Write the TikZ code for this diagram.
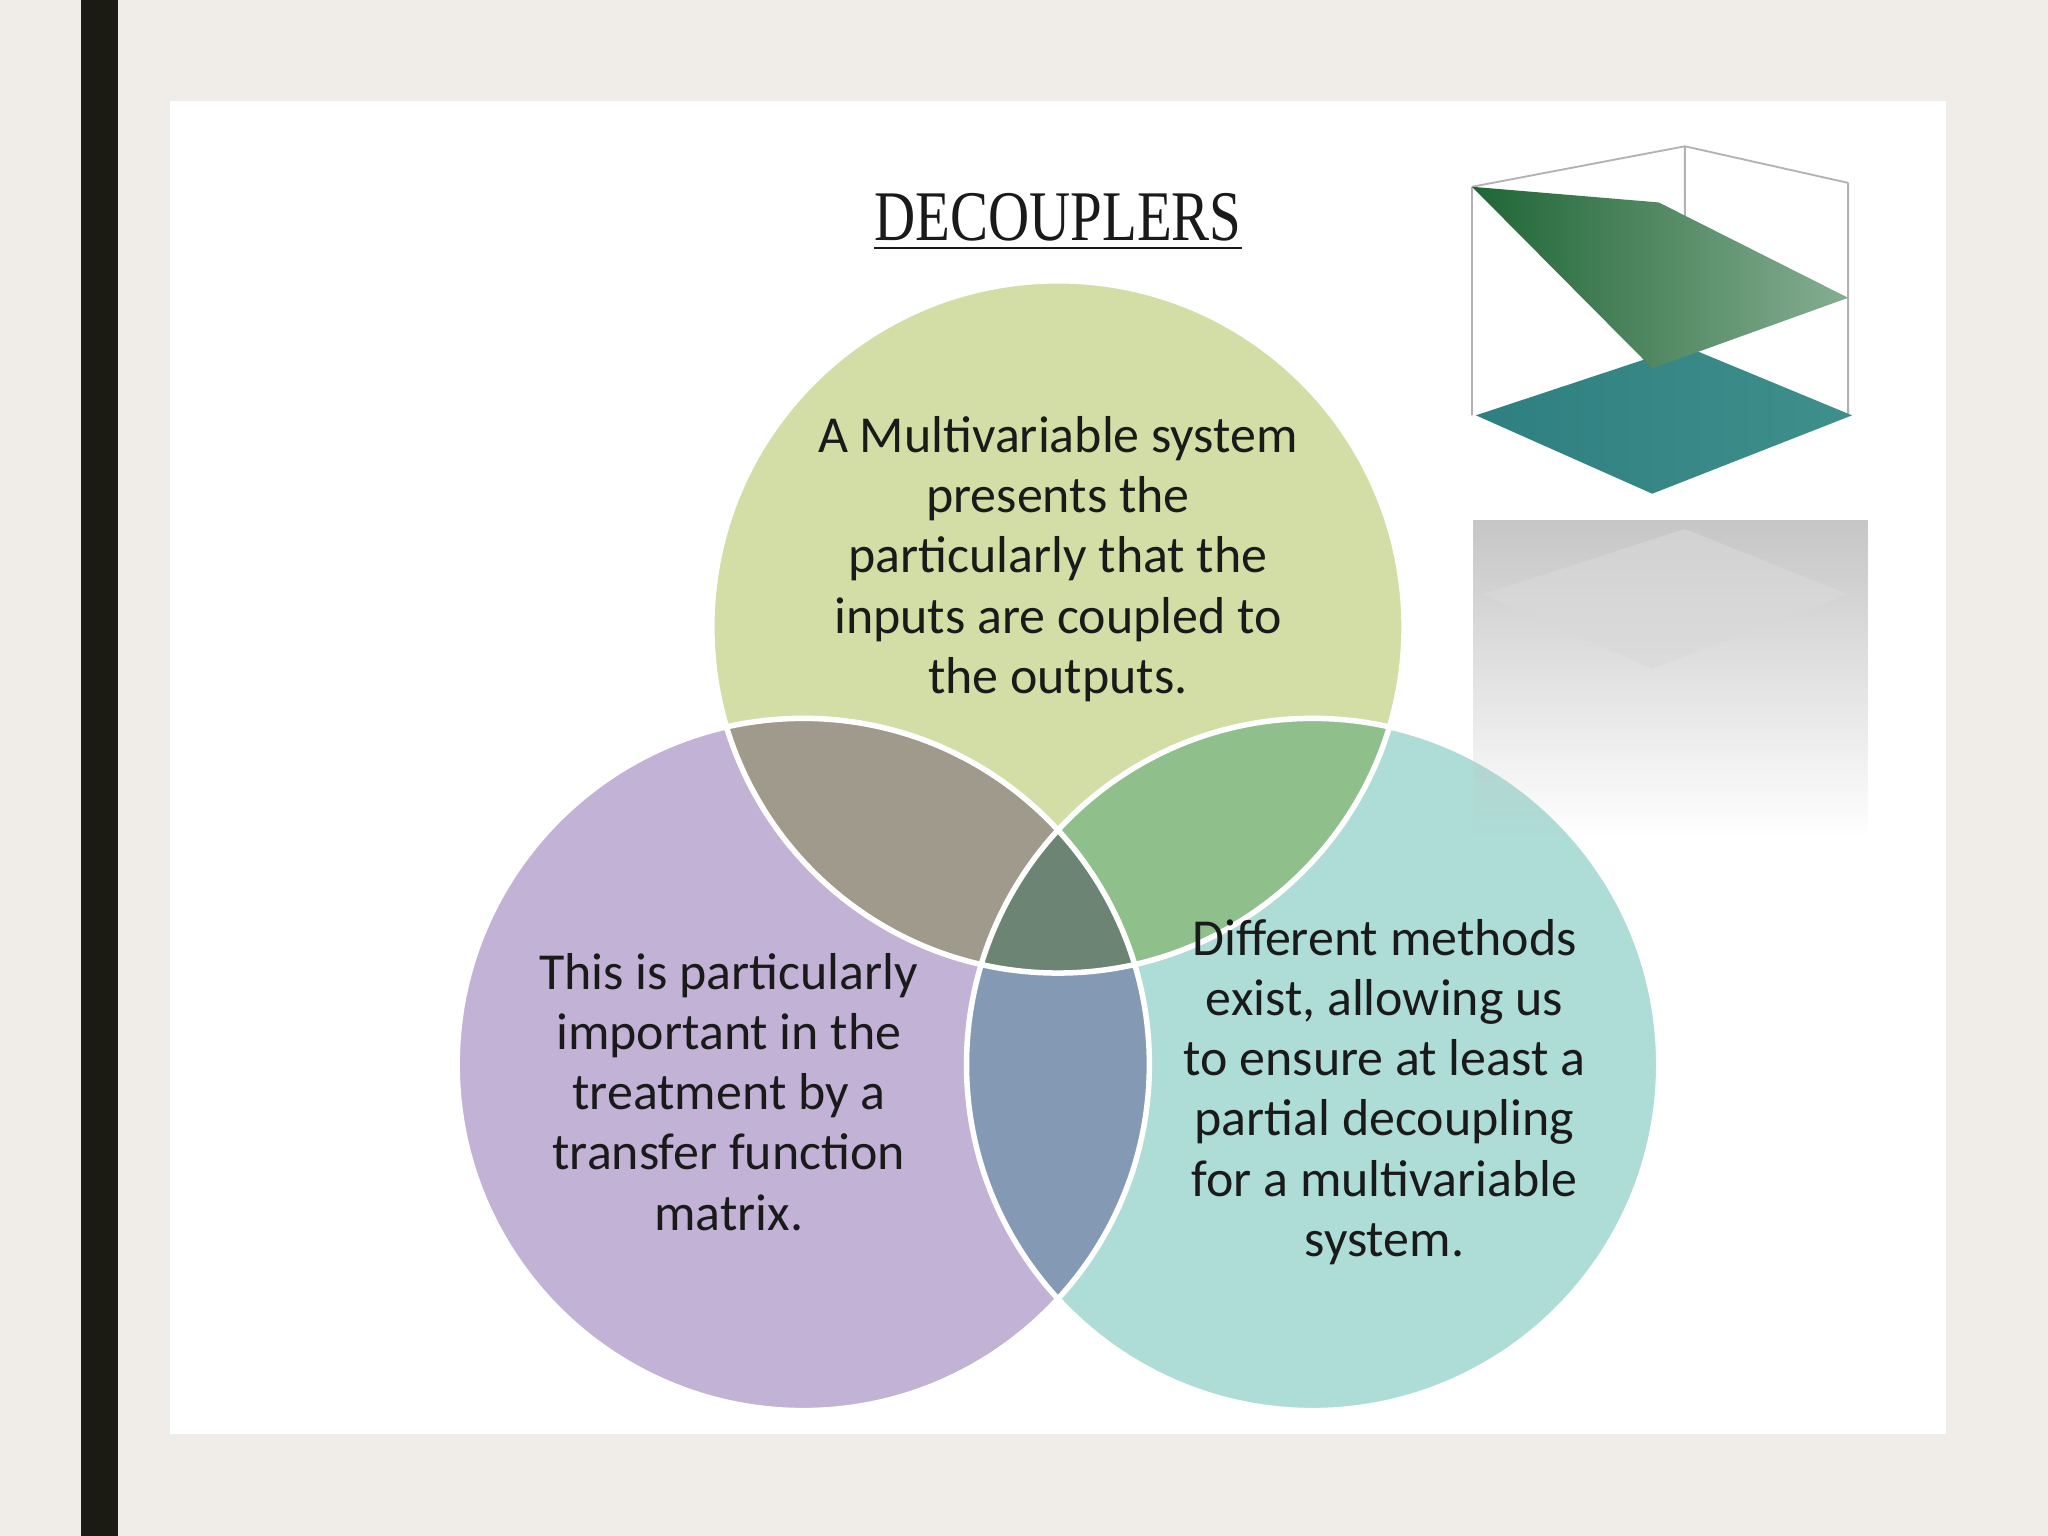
\documentclass[tikz,border=0pt]{standalone}
\usepackage{fontspec}
\setmainfont{Carlito}
\newfontfamily\titlefont[FakeStretch=0.8]{Liberation Serif}
\usetikzlibrary{shadings,fadings}
\definecolor{bg}{HTML}{F0ECE7}
\definecolor{barc}{HTML}{1B1B14}
\definecolor{cgreen}{HTML}{D2DEA6}
\definecolor{cpurple}{HTML}{C2B2D6}
\definecolor{cteal}{HTML}{AEDCD6}
\definecolor{txt}{HTML}{1A1A1A}
\definecolor{sdark}{HTML}{1F6535}
\definecolor{slight}{HTML}{86AE92}
\definecolor{pdark}{HTML}{2E7F80}
\definecolor{plight}{HTML}{3F8F8C}
\tikzset{circtext/.style={align=center,text=txt,font=\fontsize{11.3pt}{13.1pt}\selectfont},
 axisline/.style={gray!60,line width=0.4pt}}
\begin{document}
\begin{tikzpicture}[x=0.01cm,y=-0.01cm]
\useasboundingbox (0,0) rectangle (1568,1176);
\fill[bg] (0,0) rectangle (1568,1176);
\fill[barc] (62,0) rectangle (90,1176);
\fill[white] (130,77) rectangle (1490,1098);
% title
\node[font=\titlefont\fontsize{15.5pt}{18pt}\selectfont,text=txt] (title) at (810,170) {\underline{DECOUPLERS}};
% circles
\begin{scope}[blend group=multiply]
\fill[cgreen] (810,480) circle (265);
\fill[cpurple] (615,815) circle (265);
\fill[cteal] (1005,815) circle (265);
\end{scope}
\draw[white,line width=1.2pt] (810,480) circle (265) (615,815) circle (265) (1005,815) circle (265);
\node[circtext] (t1) at (810,428) {A Multivariable system\\presents the\\particularly that the\\inputs are coupled to\\the outputs.};
\node[circtext] (t2) at (558,836) {This is particularly\\important in the\\treatment by a\\transfer function\\matrix.};
\node[circtext] (t3) at (1060,836) {Different methods\\exist, allowing us\\to ensure at least a\\partial decoupling\\for a multivariable\\system.};
% chart
\draw[axisline] (1127,143)--(1127,318) (1290,112)--(1290,265) (1415,140)--(1415,318)
 (1127,143)--(1290,112)--(1415,140);
\shade[left color=pdark,right color=plight] (1130,318)--(1290,265)--(1418,318)--(1265,378)--cycle;
\shade[left color=sdark,right color=slight] (1127,143)--(1270,155)--(1415,228)--(1265,282)--cycle;
% reflection
\fill[gray!45,path fading=south] (1128,398) rectangle (1430,640);
\fill[gray!30,opacity=0.6] (1135,455)--(1290,405)--(1415,455)--(1265,512)--cycle;
\end{tikzpicture}
\end{document}
